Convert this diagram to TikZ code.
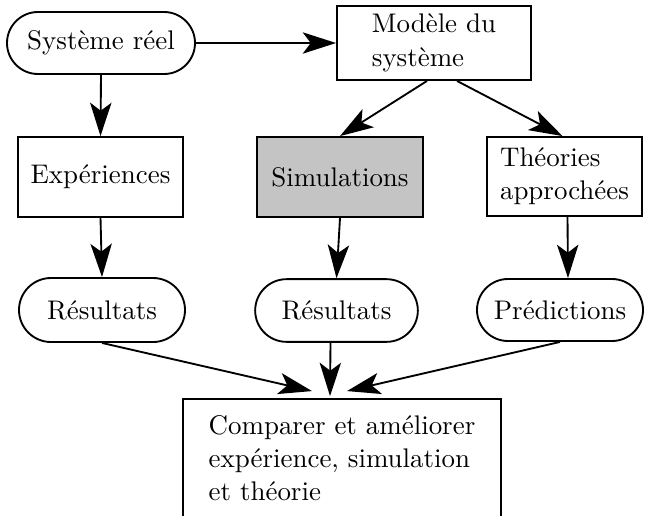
\documentclass[tikz,border=0pt]{standalone}
\usepackage{fontspec}
\setmainfont{lmroman10-regular.otf}
\usetikzlibrary{shapes.misc,arrows.meta,calc}
\definecolor{simgray}{RGB}{196,196,196}
\begin{document}
\begin{tikzpicture}[x=0.75pt,y=-0.75pt,
  every node/.style={font=\fontsize{20.2}{25}\selectfont, line width=1.4pt, inner sep=0pt, align=left},
  pill/.style={draw, rounded rectangle},
  boxnode/.style={draw, rectangle},
  conn/.style={line width=1.4pt, -{Stealth[length=25pt,width=16pt,inset=6pt]}}]
\useasboundingbox (0,0) rectangle (645,515);
\clip (0,0) rectangle (645,515);
\node[pill, minimum width=141pt, minimum height=46.5pt] (sys) at (101,43) {Système réel};
\node[boxnode, minimum width=145.5pt, minimum height=55.5pt] (model) at (434,43) {Modèle du\\système};
\node[boxnode, minimum width=123.75pt, minimum height=60pt] (exp) at (100.5,177) {Expériences};
\node[boxnode, fill=simgray, minimum width=124.5pt, minimum height=60pt] (sim) at (340,177) {Simulations};
\node[boxnode, minimum width=116.25pt, minimum height=59.25pt] (theo) at (564.5,176.5) {Théories\\approchées};
\node[pill, minimum width=124.5pt, minimum height=48pt] (r1) at (102,310) {Résultats};
\node[pill, minimum width=122pt, minimum height=47pt] (r2) at (336.5,310.5) {Résultats};
\node[pill, minimum width=124.5pt, minimum height=46.5pt] (pred) at (560,310) {Prédictions};
\node[boxnode, minimum width=238.5pt, minimum height=88.5pt] (cmp) at (342,458) {Comparer et améliorer\\expérience, simulation\\et théorie};
\coordinate (t1) at ($(cmp.north)+(-30,-7)$);
\coordinate (t2) at ($(cmp.north)+(-12,-2)$);
\coordinate (t3) at ($(cmp.north)+(5,-7)$);
\draw[conn] (sys.east) -- (model.west);
\draw[conn] (sys.south) -- (exp.north);
\draw[conn] ($(model.south)+(-7,0)$) -- (sim.north);
\draw[conn] ($(model.south)+(23,0)$) -- ($(theo.north)+(-2,0)$);
\draw[conn] (exp.south) -- (r1.north);
\draw[conn] (sim.south) -- (r2.north);
\draw[conn] ($(theo.south)+(3,0)$) -- ($(pred.north)+(8,0)$);
\draw[conn] (r1.south) -- (t1);
\draw[conn] ($(r2.south)+(-6,0)$) -- (t2);
\draw[conn] (pred.south) -- (t3);
\end{tikzpicture}
\end{document}
